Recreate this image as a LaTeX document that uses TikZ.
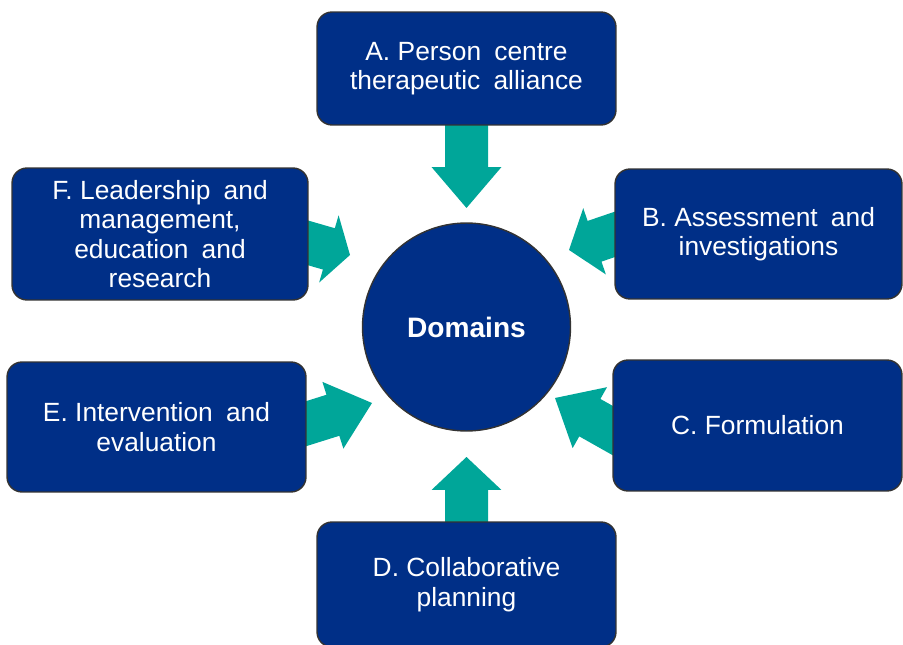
\documentclass[tikz,border=0pt]{standalone}
\usepackage{fontspec}
\setmainfont{Liberation Sans}
\usetikzlibrary{calc}
\definecolor{boxnavy}{RGB}{0,47,135}
\definecolor{arrowteal}{RGB}{0,166,153}
\newcommand{\domarrow}[3]{%
  \coordinate (hb) at ($(#2)!#3!(#1)$);
  \fill[arrowteal] (#2) -- ($(hb)!0.7cm!90:(#2)$) -- ($(hb)!0.43cm!90:(#2)$)
    -- ($(#1)!0.43cm!90:(#2)$) -- ($(#1)!0.43cm!-90:(#2)$)
    -- ($(hb)!0.43cm!-90:(#2)$) -- ($(hb)!0.7cm!-90:(#2)$) -- cycle;}
\newcommand{\lsp}{\hspace{0.28em}}

\begin{document}
\begin{tikzpicture}[x=0.02cm, y=-0.02cm,
    domainbox/.style={draw=black!80, line width=0.8pt, fill=boxnavy, rounded corners=0.3cm,
      text=white, align=center,
      font={\fontsize{15}{16.8}\selectfont\frenchspacing\spaceskip=0.5em\relax}},
    hub/.style={circle, draw=black!80, line width=0.8pt, fill=boxnavy, text=white,
      minimum size=4.16cm, font=\fontsize{16}{18}\selectfont\bfseries}]
            \useasboundingbox (0,0) rectangle (903,645);

            \coordinate (tailA) at (466.5,100);
            \coordinate (tipA) at (466.5,208);
            \coordinate (tailB) at (654,221);
            \coordinate (tipB) at (569,250);
            \coordinate (tailC) at (633,442);
            \coordinate (tipC) at (555,398);
            \coordinate (tailD) at (466.5,560);
            \coordinate (tipD) at (466.5,457);
            \coordinate (tailE) at (286,430);
            \coordinate (tipE) at (372,403);
            \coordinate (tailF) at (263.5,230);
            \coordinate (tipF) at (350,255);

            \domarrow{tailA}{tipA}{0.82cm}
            \domarrow{tailB}{tipB}{0.54cm}
            \domarrow{tailC}{tipC}{0.8cm}
            \domarrow{tailD}{tipD}{0.66cm}
            \domarrow{tailE}{tipE}{0.82cm}
            \domarrow{tailF}{tipF}{0.44cm}

            \node[hub] (domains) at (466.5,327) {Domains};

            \node[domainbox, minimum width=5.98cm, minimum height=2.26cm] (person) at (466.5,68.5)
                {A.\lsp Person centre\\therapeutic alliance};
            \node[domainbox, minimum width=5.74cm, minimum height=2.6cm] (assess) at (758.5,234)
                {B.\lsp Assessment and\\investigations};
            \node[domainbox, minimum width=5.78cm, minimum height=2.62cm] (formul) at (757.5,425.5)
                {C.\lsp Formulation};
            \node[domainbox, minimum width=5.98cm, minimum height=2.5cm] (collab) at (466.5,584.5)
                {D.\lsp Collaborative\\planning};
            \node[domainbox, minimum width=5.98cm, minimum height=2.6cm] (interv) at (156.5,427)
                {E.\lsp Intervention and\\evaluation};
            \node[domainbox, minimum width=5.92cm, minimum height=2.64cm] (leader) at (160,234)
                {F.\lsp Leadership and\\management,\\education and\\research};
        \end{tikzpicture}
\end{document}
